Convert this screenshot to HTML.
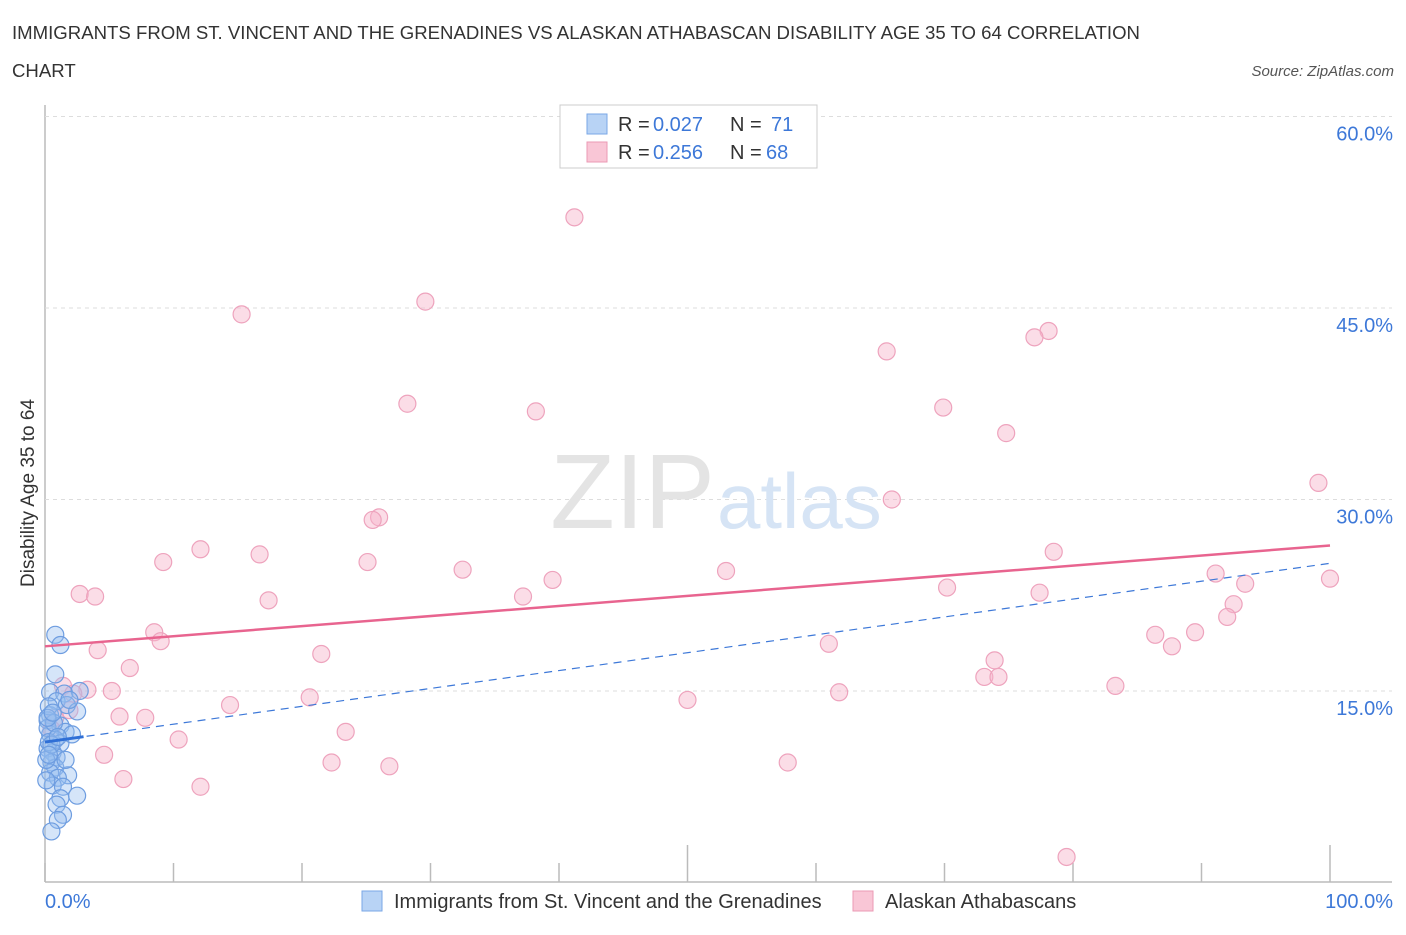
<!DOCTYPE html>
<html><head><meta charset="utf-8"><style>
body{margin:0;background:#fff;font-family:"Liberation Sans",sans-serif}
svg text{font-family:"Liberation Sans",sans-serif}
</style></head><body>
<svg id="chart" width="1406" height="930" xmlns="http://www.w3.org/2000/svg">
<text x="12" y="39" font-size="18.6" fill="#333">IMMIGRANTS FROM ST. VINCENT AND THE GRENADINES VS ALASKAN ATHABASCAN DISABILITY AGE 35 TO 64 CORRELATION</text>
<text x="12" y="77" font-size="18.6" fill="#333">CHART</text>
<text x="1394" y="76" font-size="15" fill="#555" font-style="italic" text-anchor="end">Source: ZipAtlas.com</text>
<text x="34" y="493" font-size="19" fill="#333" text-anchor="middle" transform="rotate(-90 34 493)">Disability Age 35 to 64</text>
<g id="grid"></g>
<text x="715" y="528" font-size="106" fill="#e4e4e4" text-anchor="end" font-family="Liberation Serif">ZIP</text>
<text x="717" y="528" font-size="78" fill="#d6e4f5">atlas</text>
<g id="marks"></g>
<g>
<rect x="560" y="105" width="257" height="63" fill="#fff" stroke="#ccc"/>
<rect x="587" y="114" width="20" height="20" fill="#b8d3f5" stroke="#7aa7e6"/>
<text x="618" y="131" font-size="20" fill="#333">R =</text>
<text x="653" y="131" font-size="20" fill="#3d78d8">0.027</text>
<text x="730" y="131" font-size="20" fill="#333">N =</text>
<text x="771" y="131" font-size="20" fill="#3d78d8">71</text>
<rect x="587" y="142" width="20" height="20" fill="#f9c6d6" stroke="#eb9ab4"/>
<text x="618" y="159" font-size="20" fill="#333">R =</text>
<text x="653" y="159" font-size="20" fill="#3d78d8">0.256</text>
<text x="730" y="159" font-size="20" fill="#333">N =</text>
<text x="766" y="159" font-size="20" fill="#3d78d8">68</text>
</g>
<g>
<rect x="362" y="891" width="20" height="20" fill="#b8d3f5" stroke="#7aa7e6"/>
<text x="394" y="908" font-size="20" fill="#333">Immigrants from St. Vincent and the Grenadines</text>
<rect x="853" y="891" width="20" height="20" fill="#f9c6d6" stroke="#eb9ab4"/>
<text x="885" y="908" font-size="20" fill="#333">Alaskan Athabascans</text>
</g>
</svg>
<script>
const yTicks=[15,30,45,60];
const xLabels=["0.0%","100.0%"];
const pinkX=[41.2,29.6,15.3,78.1,77.0,65.5,28.2,38.2,69.9,74.8,99.1,65.9,26.0,25.5,12.1,16.7,78.5,9.2,25.1,32.5,53.0,91.1,100,93.4,39.5,70.2,2.7,3.9,77.4,37.2,17.4,92.5,92.0,8.5,86.4,89.5,9.0,87.7,61.0,4.1,21.5,6.6,73.9,73.1,74.2,83.3,61.8,5.2,3.3,20.6,50.0,14.4,5.8,7.8,23.4,10.4,4.6,22.3,26.8,57.8,6.1,12.1,79.5,1.4,1.9,0.8,2.2,0.5];
const pinkY=[52.1,45.5,44.5,43.2,42.7,41.6,37.5,36.9,37.2,35.2,31.3,30.0,28.6,28.4,26.1,25.7,25.9,25.1,25.1,24.5,24.4,24.2,23.8,23.4,23.7,23.1,22.6,22.4,22.7,22.4,22.1,21.8,20.8,19.6,19.4,19.6,18.9,18.5,18.7,18.2,17.9,16.8,17.4,16.1,16.1,15.4,14.9,15.0,15.1,14.5,14.3,13.9,13.0,12.9,11.8,11.2,10.0,9.4,9.1,9.4,8.1,7.5,2.0,15.4,13.5,12.9,14.8,12.0];
const blueX=[0.8,1.2,0.8,0.4,1.5,2.7,0.9,1.7,2.5,0.4,0.2,1.2,1.6,0.4,0.8,1.2,0.2,0.6,0.9,0.5,0.8,0.4,1.8,1.0,0.6,1.4,2.5,1.2,0.9,1.4,1.0,0.5,0.2,0.3,2.1,0.1,1.6,0.1,1.9,0.3,0.7,0.5,1.0,0.2,0.6,0.3];
const blueY=[19.4,18.6,16.3,14.9,14.8,15.0,14.2,13.9,13.4,13.1,12.7,12.3,11.8,11.6,11.2,10.9,10.5,10.2,9.8,9.4,9.0,8.6,8.4,8.2,7.6,7.5,6.8,6.6,6.1,5.3,4.9,4.0,12.1,13.8,11.6,9.6,9.6,8.0,14.3,11.0,12.5,10.8,11.4,12.9,13.3,10.0];
const pinkTrend=[18.5,26.4];
const blueTrend=[11.0,25.0];
const NS="http://www.w3.org/2000/svg";
const X=v=>45+v*12.85, Y=v=>882.5-v*12.767;
const grid=document.getElementById('grid'), marks=document.getElementById('marks');
function mk(tag,attrs,parent){const e=document.createElementNS(NS,tag);for(const k in attrs)e.setAttribute(k,attrs[k]);parent.appendChild(e);return e;}
let e=mk('line',{x1:45,y1:105,x2:45,y2:882,stroke:'#bbb','stroke-width':1.5},grid);


e=mk('line',{x1:45,y1:882,x2:1392,y2:882,stroke:'#bbb','stroke-width':1.5},grid);


yTicks.forEach(t=>{
 let g=mk('line',{x1:45,y1:Y(t),x2:1392,y2:Y(t),stroke:'#ddd','stroke-dasharray':'4,4'},grid);
 
 
 let l=mk('text',{x:1393,y:Y(t)+24,'font-size':20,fill:'#3d78d8','text-anchor':'end'},grid);l.textContent=t.toFixed(1)+'%';
 
 
});
for(let i=0;i<=10;i++){
 const x=X(i*10);const long=(i==5||i==10);
 let t=mk('line',{x1:x,y1:long?845:863,x2:x,y2:882,stroke:'#bbb','stroke-width':1.5},grid);
 
 
}
let a=mk('text',{x:45,y:908,'font-size':20,fill:'#3d78d8'},grid);a.textContent=xLabels[0];


a=mk('text',{x:1393,y:908,'font-size':20,fill:'#3d78d8','text-anchor':'end'},grid);a.textContent=xLabels[1];


pinkX.forEach((x,i)=>{
 let c=mk('circle',{cx:X(x),cy:Y(pinkY[i]),r:8.5,fill:'rgba(246,180,202,0.45)',stroke:'#eea3bd','stroke-width':1.2},marks);
 
 
});
blueX.forEach((x,i)=>{
 let c=mk('circle',{cx:X(x),cy:Y(blueY[i]),r:8.5,fill:'rgba(150,190,240,0.4)',stroke:'#6e9de0','stroke-width':1.2},marks);
 
 
});
e=mk('line',{x1:X(0),y1:Y(blueTrend[0]),x2:X(100),y2:Y(blueTrend[1]),stroke:'#3d78d8','stroke-width':1.2,'stroke-dasharray':'8,6'},marks);


const bs=(blueTrend[1]-blueTrend[0])/100;
e=mk('line',{x1:X(0),y1:Y(blueTrend[0]),x2:X(3),y2:Y(blueTrend[0]+3*bs),stroke:'#2f6fd6','stroke-width':3},marks);


e=mk('line',{x1:X(0),y1:Y(pinkTrend[0]),x2:X(100),y2:Y(pinkTrend[1]),stroke:'#e8648f','stroke-width':2.5},marks);


</script>
</body></html>
